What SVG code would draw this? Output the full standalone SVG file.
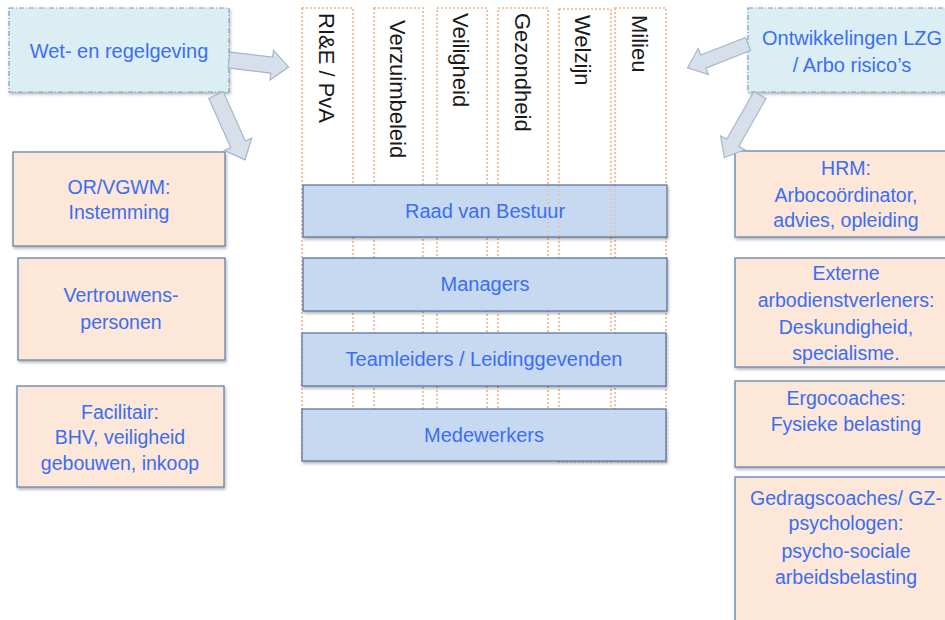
<svg xmlns="http://www.w3.org/2000/svg" width="945" height="620" viewBox="0 0 945 620">
<defs>
<filter id="sh" x="-10%" y="-10%" width="130%" height="140%">
<feDropShadow dx="1" dy="2" stdDeviation="1.5" flood-color="#000" flood-opacity="0.3"/>
</filter>
<style>
.col{fill:#fff;stroke:#F4B183;stroke-width:1.6;stroke-dasharray:2 2}
.colline{stroke:#F4B183;stroke-width:1.6;stroke-dasharray:2 2;opacity:0.55}
.vt{font-family:"Liberation Sans",Arial,sans-serif;font-size:22px;fill:#1a1a1a}
.lvl{fill:#C6D9F0;stroke:#4F6FA0;stroke-width:1.2;filter:url(#sh)}
.peach{fill:#FCE7D8;stroke:#5A7AAA;stroke-width:1.2;filter:url(#sh)}
.src{fill:#DBEEF4;stroke:#7A9CC2;stroke-width:1.2;stroke-dasharray:5 2 1 2;filter:url(#sh)}
.t{font-family:"Liberation Sans",Arial,sans-serif;font-size:19.5px;fill:#3B6EF0;text-anchor:middle}
.tl{font-size:20px}
.arr{fill:#D6DFEA;stroke:#A6B7CC;stroke-width:1.2}
</style>
</defs>
<rect width="945" height="620" fill="#fff"/>

<g id="columns">
<g id="col-rie"><rect class="col" x="302" y="8" width="51" height="452"/><text class="vt" transform="translate(319,13) rotate(90)">RI&amp;E / PvA</text></g>
<g id="col-verzuim"><rect class="col" x="374" y="8" width="49" height="440"/><text class="vt" transform="translate(390,20) rotate(90)">Verzuimbeleid</text></g>
<g id="col-veiligheid"><rect class="col" x="437" y="8" width="50" height="440"/><text class="vt" transform="translate(453,13) rotate(90)">Veiligheid</text></g>
<g id="col-gezondheid"><rect class="col" x="498" y="8" width="50" height="440"/><text class="vt" transform="translate(515,13) rotate(90)">Gezondheid</text></g>
<g id="col-welzijn"><rect class="col" x="559" y="9" width="52" height="453"/><text class="vt" transform="translate(575,15) rotate(90)">Welzijn</text></g>
<g id="col-milieu"><rect class="col" x="615" y="8" width="51" height="454"/><text class="vt" transform="translate(632,15) rotate(90)">Milieu</text></g>
</g>

<g id="raad"><rect class="lvl" x="303" y="185" width="364" height="52"/><text class="t tl" x="485" y="218">Raad van Bestuur</text></g>
<g id="col-overlay">
<line class="colline" x1="548" y1="186" x2="548" y2="236"/>
<line class="colline" x1="559" y1="186" x2="559" y2="236"/>
<line class="colline" x1="611" y1="186" x2="611" y2="236"/>
<line class="colline" x1="615" y1="186" x2="615" y2="236"/>
<line class="colline" x1="666" y1="186" x2="666" y2="236"/>
</g>
<g id="managers"><rect class="lvl" x="303" y="258" width="364" height="53"/><text class="t tl" x="485" y="291">Managers</text></g>
<g id="teamleiders"><rect class="lvl" x="302" y="333" width="364" height="53"/><text class="t tl" x="484" y="366">Teamleiders / Leidinggevenden</text></g>
<g id="medewerkers"><rect class="lvl" x="302" y="409" width="364" height="52"/><text class="t tl" x="484" y="442">Medewerkers</text></g>

<g id="wet"><rect class="src" x="9" y="8" width="220" height="84"/><text class="t tl" x="119" y="58">Wet- en regelgeving</text></g>
<g id="ontwikkelingen"><rect class="src" x="748" y="8" width="212" height="84"/><text class="t tl" x="852" y="45">Ontwikkelingen LZG</text><text class="t tl" x="852" y="72">/ Arbo risico’s</text></g>

<g id="or"><rect class="peach" x="13" y="152" width="212" height="94"/><text class="t" x="119" y="194">OR/VGWM:</text><text class="t" x="119" y="219">Instemming</text></g>
<g id="vertrouwens"><rect class="peach" x="18" y="258" width="207" height="102"/><text class="t" x="121" y="302">Vertrouwens-</text><text class="t" x="121" y="329">personen</text></g>
<g id="facilitair"><rect class="peach" x="17" y="386" width="207" height="101"/><text class="t" x="120" y="419">Facilitair:</text><text class="t" x="120" y="444">BHV, veiligheid</text><text class="t" x="120" y="470">gebouwen, inkoop</text></g>

<g id="hrm"><rect class="peach" x="735" y="151" width="225" height="86"/><text class="t" x="846" y="175">HRM:</text><text class="t" x="846" y="202">Arbocoördinator,</text><text class="t" x="846" y="227">advies, opleiding</text></g>
<g id="externe"><rect class="peach" x="735" y="258" width="225" height="109"/><text class="t" x="846" y="280">Externe</text><text class="t" x="846" y="307">arbodienstverleners:</text><text class="t" x="846" y="334">Deskundigheid,</text><text class="t" x="846" y="360">specialisme.</text></g>
<g id="ergo"><rect class="peach" x="735" y="381" width="225" height="86"/><text class="t" x="846" y="405">Ergocoaches:</text><text class="t" x="846" y="431">Fysieke belasting</text></g>
<g id="gedrag"><rect class="peach" x="735" y="477" width="225" height="160"/><text class="t" x="846" y="505">Gedragscoaches/ GZ-</text><text class="t" x="846" y="530">psychologen:</text><text class="t" x="846" y="558">psycho-sociale</text><text class="t" x="846" y="584">arbeidsbelasting</text></g>

<g id="connectors">
<polygon class="arr" transform="translate(229,60) rotate(6.8)" points="0,-8 43,-8 43,-15 60,0 43,15 43,8 0,8"/>
<polygon class="arr" transform="translate(216,95) rotate(65.9)" points="0,-8 54,-8 54,-15 71,0 54,15 54,8 0,8"/>
<polygon class="arr" transform="translate(748,44) rotate(158.5)" points="0,-7 48,-7 48,-14 65,0 48,14 48,7 0,7"/>
<polygon class="arr" transform="translate(760,95) rotate(119.7)" points="0,-7 55,-7 55,-14 72,0 55,14 55,7 0,7"/>
</g>
</svg>
